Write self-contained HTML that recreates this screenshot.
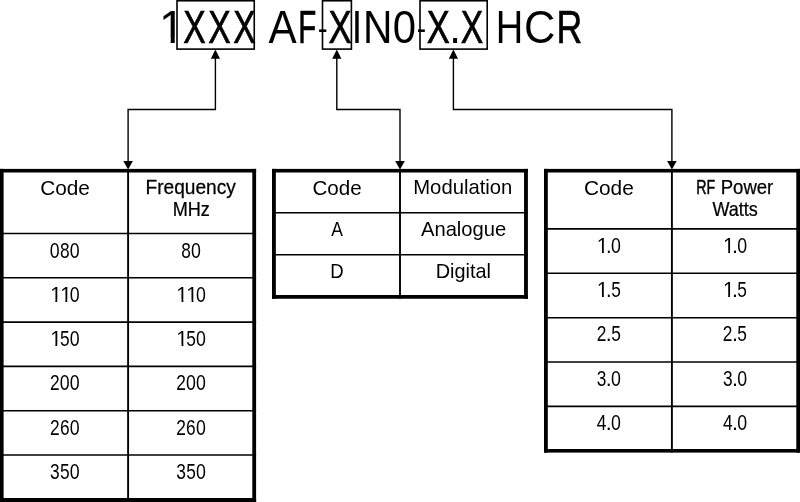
<!DOCTYPE html>
<html lang="en"><head><meta charset="utf-8"><title>Part number code</title>
<style>
html,body{margin:0;padding:0;background:#fff;}
body{width:800px;height:502px;overflow:hidden;}
svg{display:block;will-change:transform;}
text{font-family:"Liberation Sans",sans-serif;fill:#000;}
</style></head><body>
<svg width="800" height="502" viewBox="0 0 800 502">
<rect width="800" height="502" fill="#fff"/>
<g>
<text font-size="46.4"><tspan x="158.98" y="42.50" textLength="25.81" lengthAdjust="spacingAndGlyphs">1</tspan><tspan x="183.24" y="42.50" textLength="22.46" lengthAdjust="spacingAndGlyphs" stroke="#000" stroke-width="0.7">X</tspan><tspan x="208.24" y="42.50" textLength="22.46" lengthAdjust="spacingAndGlyphs" stroke="#000" stroke-width="0.7">X</tspan><tspan x="233.24" y="42.50" textLength="22.46" lengthAdjust="spacingAndGlyphs" stroke="#000" stroke-width="0.7">X</tspan> <tspan x="268.42" y="42.50" textLength="28.16" lengthAdjust="spacingAndGlyphs">A</tspan><tspan x="298.18" y="42.50" textLength="18.00" lengthAdjust="spacingAndGlyphs" stroke="#000" stroke-width="0.7">F</tspan><tspan x="317.68" y="40.13" font-size="34.0" textLength="9.89" lengthAdjust="spacingAndGlyphs">-</tspan><tspan x="328.62" y="42.50" textLength="23.11" lengthAdjust="spacingAndGlyphs" stroke="#000" stroke-width="0.7">X</tspan><tspan x="351.79" y="42.50" textLength="10.43" lengthAdjust="spacingAndGlyphs">I</tspan><tspan x="362.91" y="42.50" textLength="29.41" lengthAdjust="spacingAndGlyphs">N</tspan><tspan x="392.77" y="42.50" textLength="23.27" lengthAdjust="spacingAndGlyphs">0</tspan><tspan x="416.65" y="40.13" font-size="34.0" textLength="9.34" lengthAdjust="spacingAndGlyphs">-</tspan><tspan x="426.73" y="42.50" textLength="23.00" lengthAdjust="spacingAndGlyphs" stroke="#000" stroke-width="0.7">X</tspan><tspan x="449.16" y="42.50" textLength="11.67" lengthAdjust="spacingAndGlyphs">.</tspan><tspan x="460.74" y="42.50" textLength="22.46" lengthAdjust="spacingAndGlyphs" stroke="#000" stroke-width="0.7">X</tspan> <tspan x="495.63" y="42.50" textLength="27.47" lengthAdjust="spacingAndGlyphs">H</tspan><tspan x="524.04" y="42.50" textLength="31.36" lengthAdjust="spacingAndGlyphs">C</tspan><tspan x="556.47" y="42.50" textLength="25.79" lengthAdjust="spacingAndGlyphs" stroke="#000" stroke-width="0.7">R</tspan></text>
<text transform="translate(40.19,194.70) scale(1.0197,1)" font-size="20.4">Code</text>
<text transform="translate(145.53,194.10) scale(0.9864,1)" font-size="19.4" stroke="#000" stroke-width="0.25">Frequency</text>
<text transform="translate(172.72,215.80) scale(0.9327,1)" font-size="19.4" stroke="#000" stroke-width="0.25">MHz</text>
<text transform="translate(312.45,194.70) scale(1.0101,1)" font-size="20.4">Code</text>
<text transform="translate(413.24,194.20) scale(1.0137,1)" font-size="20">Modulation</text>
<text transform="translate(331.17,236.10) scale(0.8747,1)" font-size="20">A</text>
<text transform="translate(330.28,278.00) scale(0.9286,1)" font-size="20">D</text>
<text transform="translate(420.96,236.10) scale(1.0096,1)" font-size="20">Analogue</text>
<text transform="translate(435.67,278.00) scale(0.9962,1)" font-size="20">Digital</text>
<text transform="translate(583.94,194.70) scale(1.0229,1)" font-size="20.4">Code</text>
<text y="193.90" font-size="19.4" stroke="#000" stroke-width="0.25"><tspan x="696.29" textLength="18.88" lengthAdjust="spacingAndGlyphs" stroke="#000" stroke-width="0.5">RF</tspan> <tspan x="720.68" textLength="52.63" lengthAdjust="spacingAndGlyphs">Power</tspan></text>
<text transform="translate(712.42,215.80) scale(0.9304,1)" font-size="19.4" stroke="#000" stroke-width="0.25">Watts</text>
<text y="257.50" font-size="21.4"><tspan x="49.86" textLength="9.88" lengthAdjust="spacingAndGlyphs">0</tspan><tspan x="59.98" textLength="9.64" lengthAdjust="spacingAndGlyphs">8</tspan><tspan x="69.86" textLength="9.88" lengthAdjust="spacingAndGlyphs">0</tspan></text>
<text y="257.50" font-size="21.4"><tspan x="181.18" textLength="9.64" lengthAdjust="spacingAndGlyphs">8</tspan><tspan x="191.06" textLength="9.88" lengthAdjust="spacingAndGlyphs">0</tspan></text>
<text y="301.80" font-size="21.4"><tspan x="50.15" textLength="11.54" lengthAdjust="spacingAndGlyphs">1</tspan><tspan x="60.15" textLength="11.54" lengthAdjust="spacingAndGlyphs">1</tspan><tspan x="69.86" textLength="9.88" lengthAdjust="spacingAndGlyphs">0</tspan></text>
<text y="301.80" font-size="21.4"><tspan x="176.35" textLength="11.54" lengthAdjust="spacingAndGlyphs">1</tspan><tspan x="186.35" textLength="11.54" lengthAdjust="spacingAndGlyphs">1</tspan><tspan x="196.06" textLength="9.88" lengthAdjust="spacingAndGlyphs">0</tspan></text>
<text y="346.10" font-size="21.4"><tspan x="50.15" textLength="11.54" lengthAdjust="spacingAndGlyphs">1</tspan><tspan x="60.00" textLength="9.64" lengthAdjust="spacingAndGlyphs">5</tspan><tspan x="69.86" textLength="9.88" lengthAdjust="spacingAndGlyphs">0</tspan></text>
<text y="346.10" font-size="21.4"><tspan x="176.35" textLength="11.54" lengthAdjust="spacingAndGlyphs">1</tspan><tspan x="186.20" textLength="9.64" lengthAdjust="spacingAndGlyphs">5</tspan><tspan x="196.06" textLength="9.88" lengthAdjust="spacingAndGlyphs">0</tspan></text>
<text y="390.40" font-size="21.4"><tspan x="49.98" textLength="9.64" lengthAdjust="spacingAndGlyphs">2</tspan><tspan x="59.86" textLength="9.88" lengthAdjust="spacingAndGlyphs">0</tspan><tspan x="69.86" textLength="9.88" lengthAdjust="spacingAndGlyphs">0</tspan></text>
<text y="390.40" font-size="21.4"><tspan x="176.18" textLength="9.64" lengthAdjust="spacingAndGlyphs">2</tspan><tspan x="186.06" textLength="9.88" lengthAdjust="spacingAndGlyphs">0</tspan><tspan x="196.06" textLength="9.88" lengthAdjust="spacingAndGlyphs">0</tspan></text>
<text y="434.70" font-size="21.4"><tspan x="49.98" textLength="9.64" lengthAdjust="spacingAndGlyphs">2</tspan><tspan x="59.92" textLength="9.64" lengthAdjust="spacingAndGlyphs">6</tspan><tspan x="69.86" textLength="9.88" lengthAdjust="spacingAndGlyphs">0</tspan></text>
<text y="434.70" font-size="21.4"><tspan x="176.18" textLength="9.64" lengthAdjust="spacingAndGlyphs">2</tspan><tspan x="186.12" textLength="9.64" lengthAdjust="spacingAndGlyphs">6</tspan><tspan x="196.06" textLength="9.88" lengthAdjust="spacingAndGlyphs">0</tspan></text>
<text y="479.00" font-size="21.4"><tspan x="50.03" textLength="9.64" lengthAdjust="spacingAndGlyphs">3</tspan><tspan x="60.00" textLength="9.64" lengthAdjust="spacingAndGlyphs">5</tspan><tspan x="69.86" textLength="9.88" lengthAdjust="spacingAndGlyphs">0</tspan></text>
<text y="479.00" font-size="21.4"><tspan x="176.23" textLength="9.64" lengthAdjust="spacingAndGlyphs">3</tspan><tspan x="186.20" textLength="9.64" lengthAdjust="spacingAndGlyphs">5</tspan><tspan x="196.06" textLength="9.88" lengthAdjust="spacingAndGlyphs">0</tspan></text>
<text y="252.65" font-size="21.4"><tspan x="596.85" textLength="11.54" lengthAdjust="spacingAndGlyphs">1</tspan><tspan x="605.78" textLength="5.95" lengthAdjust="spacingAndGlyphs">.</tspan><tspan x="611.06" textLength="9.88" lengthAdjust="spacingAndGlyphs">0</tspan></text>
<text y="252.65" font-size="21.4"><tspan x="723.00" textLength="11.54" lengthAdjust="spacingAndGlyphs">1</tspan><tspan x="731.93" textLength="5.95" lengthAdjust="spacingAndGlyphs">.</tspan><tspan x="737.21" textLength="9.88" lengthAdjust="spacingAndGlyphs">0</tspan></text>
<text y="297.05" font-size="21.4"><tspan x="596.85" textLength="11.54" lengthAdjust="spacingAndGlyphs">1</tspan><tspan x="605.78" textLength="5.95" lengthAdjust="spacingAndGlyphs">.</tspan><tspan x="611.20" textLength="9.64" lengthAdjust="spacingAndGlyphs">5</tspan></text>
<text y="297.05" font-size="21.4"><tspan x="723.00" textLength="11.54" lengthAdjust="spacingAndGlyphs">1</tspan><tspan x="731.93" textLength="5.95" lengthAdjust="spacingAndGlyphs">.</tspan><tspan x="737.35" textLength="9.64" lengthAdjust="spacingAndGlyphs">5</tspan></text>
<text y="341.45" font-size="21.4"><tspan x="596.68" textLength="9.64" lengthAdjust="spacingAndGlyphs">2</tspan><tspan x="605.78" textLength="5.95" lengthAdjust="spacingAndGlyphs">.</tspan><tspan x="611.20" textLength="9.64" lengthAdjust="spacingAndGlyphs">5</tspan></text>
<text y="341.45" font-size="21.4"><tspan x="722.83" textLength="9.64" lengthAdjust="spacingAndGlyphs">2</tspan><tspan x="731.93" textLength="5.95" lengthAdjust="spacingAndGlyphs">.</tspan><tspan x="737.35" textLength="9.64" lengthAdjust="spacingAndGlyphs">5</tspan></text>
<text y="385.85" font-size="21.4"><tspan x="596.73" textLength="9.64" lengthAdjust="spacingAndGlyphs">3</tspan><tspan x="605.78" textLength="5.95" lengthAdjust="spacingAndGlyphs">.</tspan><tspan x="611.06" textLength="9.88" lengthAdjust="spacingAndGlyphs">0</tspan></text>
<text y="385.85" font-size="21.4"><tspan x="722.88" textLength="9.64" lengthAdjust="spacingAndGlyphs">3</tspan><tspan x="731.93" textLength="5.95" lengthAdjust="spacingAndGlyphs">.</tspan><tspan x="737.21" textLength="9.88" lengthAdjust="spacingAndGlyphs">0</tspan></text>
<text y="430.25" font-size="21.4"><tspan x="596.73" textLength="9.64" lengthAdjust="spacingAndGlyphs">4</tspan><tspan x="605.78" textLength="5.95" lengthAdjust="spacingAndGlyphs">.</tspan><tspan x="611.06" textLength="9.88" lengthAdjust="spacingAndGlyphs">0</tspan></text>
<text y="430.25" font-size="21.4"><tspan x="722.88" textLength="9.64" lengthAdjust="spacingAndGlyphs">4</tspan><tspan x="731.93" textLength="5.95" lengthAdjust="spacingAndGlyphs">.</tspan><tspan x="737.21" textLength="9.88" lengthAdjust="spacingAndGlyphs">0</tspan></text>
</g>
<g>
<rect x="160.84" y="38.4" width="9.81" height="5" fill="#fff"/>
<rect x="174.75" y="38.4" width="8.37" height="5" fill="#fff"/>
<rect x="50.27" y="299.60" width="5.09" height="2.80" fill="#fff"/>
<rect x="57.20" y="299.60" width="3.78" height="2.80" fill="#fff"/>
<rect x="60.27" y="299.60" width="5.09" height="2.80" fill="#fff"/>
<rect x="67.20" y="299.60" width="3.78" height="2.80" fill="#fff"/>
<rect x="176.47" y="299.60" width="5.09" height="2.80" fill="#fff"/>
<rect x="183.40" y="299.60" width="3.78" height="2.80" fill="#fff"/>
<rect x="186.47" y="299.60" width="5.09" height="2.80" fill="#fff"/>
<rect x="193.40" y="299.60" width="3.78" height="2.80" fill="#fff"/>
<rect x="50.27" y="343.90" width="5.09" height="2.80" fill="#fff"/>
<rect x="57.20" y="343.90" width="3.78" height="2.80" fill="#fff"/>
<rect x="176.47" y="343.90" width="5.09" height="2.80" fill="#fff"/>
<rect x="183.40" y="343.90" width="3.78" height="2.80" fill="#fff"/>
<rect x="596.97" y="250.45" width="5.09" height="2.80" fill="#fff"/>
<rect x="603.90" y="250.45" width="3.78" height="2.80" fill="#fff"/>
<rect x="723.12" y="250.45" width="5.09" height="2.80" fill="#fff"/>
<rect x="730.05" y="250.45" width="3.78" height="2.80" fill="#fff"/>
<rect x="596.97" y="294.85" width="5.09" height="2.80" fill="#fff"/>
<rect x="603.90" y="294.85" width="3.78" height="2.80" fill="#fff"/>
<rect x="723.12" y="294.85" width="5.09" height="2.80" fill="#fff"/>
<rect x="730.05" y="294.85" width="3.78" height="2.80" fill="#fff"/>
</g>
<g fill="#000">
<rect x="177" y="0.75" width="77.25" height="48.35" fill="none" stroke="#000" stroke-width="1.6"/>
<rect x="322.5" y="0.75" width="28.90" height="48.35" fill="none" stroke="#000" stroke-width="1.6"/>
<rect x="420" y="0.75" width="67.20" height="48.35" fill="none" stroke="#000" stroke-width="1.6"/>
<path d="M215.4 58V109.5H128.1V162" stroke="#000" stroke-width="1.4" fill="none"/>
<path d="M215.4 49.6L210.80 58.7H220.00Z"/>
<path d="M128.1 169.6L123.30 161.1H132.90Z"/>
<path d="M336.8 58V109.5H400V162" stroke="#000" stroke-width="1.4" fill="none"/>
<path d="M336.8 49.6L332.20 58.7H341.40Z"/>
<path d="M400 169.6L395.20 161.1H404.80Z"/>
<path d="M453.4 58V109.5H671.9V162" stroke="#000" stroke-width="1.4" fill="none"/>
<path d="M453.4 49.6L448.80 58.7H458.00Z"/>
<path d="M671.9 169.6L667.10 161.1H676.70Z"/>
<rect x="-0.2" y="168.9" width="256.30" height="3.60"/>
<rect x="-0.2" y="498.0" width="256.30" height="4.00"/>
<rect x="-0.2" y="168.9" width="3.80" height="333.10"/>
<rect x="252.3" y="168.9" width="3.80" height="333.10"/>
<path d="M128.1 168.9L128.1 502.0" stroke="#000" stroke-width="1.9" fill="none"/>
<path d="M-0.2 233.5L256.1 233.5" stroke="#000" stroke-width="1.6" fill="none"/>
<path d="M-0.2 277.8L256.1 277.8" stroke="#000" stroke-width="1.6" fill="none"/>
<path d="M-0.2 322.1L256.1 322.1" stroke="#000" stroke-width="1.6" fill="none"/>
<path d="M-0.2 366.4L256.1 366.4" stroke="#000" stroke-width="1.6" fill="none"/>
<path d="M-0.2 410.7L256.1 410.7" stroke="#000" stroke-width="1.6" fill="none"/>
<path d="M-0.2 455.0L256.1 455.0" stroke="#000" stroke-width="1.6" fill="none"/>
<rect x="272.0" y="168.9" width="255.90" height="3.60"/>
<rect x="272.0" y="295.0" width="255.90" height="3.75"/>
<rect x="272.0" y="168.9" width="3.85" height="129.85"/>
<rect x="524.05" y="168.9" width="3.85" height="129.85"/>
<path d="M400 168.9L400 298.75" stroke="#000" stroke-width="1.9" fill="none"/>
<path d="M272.0 212.8L527.9 212.8" stroke="#000" stroke-width="1.6" fill="none"/>
<path d="M272.0 254.8L527.9 254.8" stroke="#000" stroke-width="1.6" fill="none"/>
<rect x="544.0" y="168.9" width="256.10" height="3.60"/>
<rect x="544.0" y="449.0" width="256.10" height="3.60"/>
<rect x="544.0" y="168.9" width="3.80" height="283.70"/>
<rect x="796.3000000000001" y="168.9" width="3.80" height="283.70"/>
<path d="M671.9 168.9L671.9 452.6" stroke="#000" stroke-width="1.9" fill="none"/>
<path d="M544.0 228.85L800.1 228.85" stroke="#000" stroke-width="1.6" fill="none"/>
<path d="M544.0 273.3L800.1 273.3" stroke="#000" stroke-width="1.6" fill="none"/>
<path d="M544.0 317.7L800.1 317.7" stroke="#000" stroke-width="1.6" fill="none"/>
<path d="M544.0 362.05L800.1 362.05" stroke="#000" stroke-width="1.6" fill="none"/>
<path d="M544.0 406.4L800.1 406.4" stroke="#000" stroke-width="1.6" fill="none"/>
</g>
</svg>
</body></html>
